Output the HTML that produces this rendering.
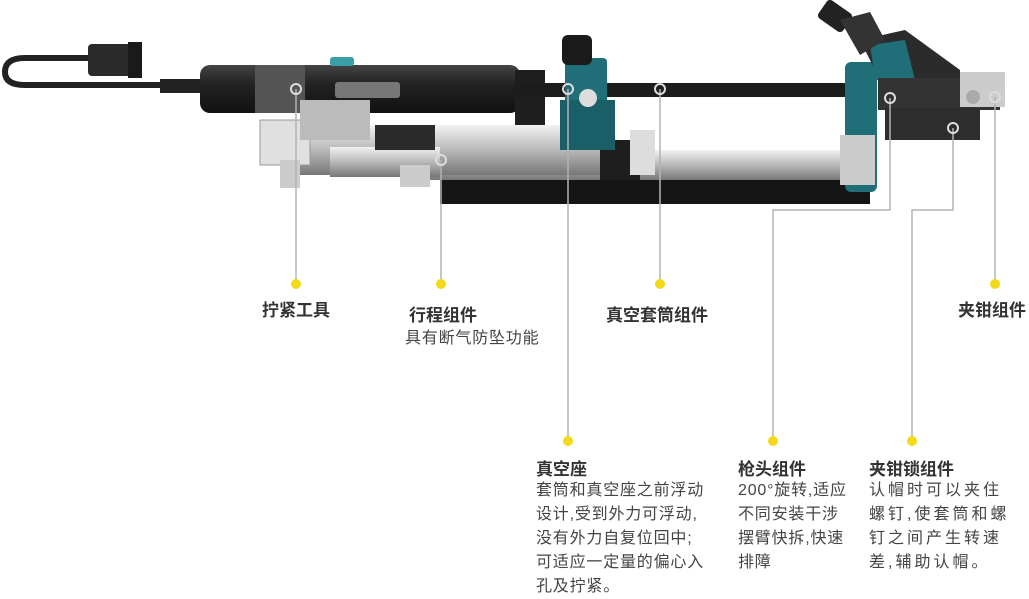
<!DOCTYPE html>
<html><head><meta charset="utf-8"><style>
body{margin:0;width:1029px;height:594px;background:#fff;position:relative;overflow:hidden;font-family:"Liberation Sans","Noto Sans CJK SC",sans-serif;color:#333}
.t{position:absolute;font-weight:bold;font-size:17px;color:#333;white-space:nowrap}
.d{position:absolute;font-size:16px;line-height:24px;color:#444;white-space:nowrap;letter-spacing:0.8px}
</style></head><body>
<svg width="1029" height="594" style="position:absolute;left:0;top:0">
<defs>
<linearGradient id="sil" x1="0" y1="0" x2="0" y2="1"><stop offset="0" stop-color="#f2f2f2"/><stop offset=".5" stop-color="#b8b8b8"/><stop offset="1" stop-color="#777"/></linearGradient>
<linearGradient id="blk" x1="0" y1="0" x2="0" y2="1"><stop offset="0" stop-color="#444"/><stop offset=".4" stop-color="#222"/><stop offset="1" stop-color="#111"/></linearGradient>
</defs>
<path d="M200,85 L25,85 Q5,85 5,72 Q5,58 25,58 L90,58" fill="none" stroke="#222" stroke-width="6"/>
<rect x="88" y="44" width="50" height="32" rx="4" fill="#2a2a2a"/>
<rect x="128" y="42" width="14" height="36" fill="#1a1a1a"/>
<rect x="160" y="79" width="45" height="14" fill="#222"/>
<rect x="200" y="65" width="320" height="48" rx="10" fill="url(#blk)"/>
<rect x="255" y="65" width="50" height="48" fill="#555"/>
<rect x="330" y="57" width="24" height="9" rx="3" fill="#3aa0a8"/>
<rect x="335" y="82" width="65" height="16" rx="3" fill="#777"/>
<rect x="515" y="70" width="30" height="72" fill="#1e1e1e"/>
<rect x="515" y="83" width="335" height="14" fill="#1c1c1c"/>
<rect x="440" y="168" width="430" height="36" fill="#151515"/>
<rect x="430" y="150" width="420" height="30" fill="url(#sil)"/>
<rect x="300" y="125" width="300" height="50" fill="url(#sil)"/>
<rect x="330" y="147" width="110" height="30" fill="url(#sil)"/>
<rect x="260" y="120" width="50" height="45" fill="#e0e0e0" stroke="#999"/>
<rect x="280" y="160" width="20" height="28" fill="#ccc"/>
<rect x="300" y="100" width="70" height="40" fill="#bbb"/>
<rect x="375" y="125" width="60" height="25" fill="#2a2a2a"/>
<rect x="400" y="165" width="30" height="22" fill="#ccc"/>
<rect x="600" y="140" width="40" height="40" fill="#1e1e1e"/>
<rect x="630" y="130" width="25" height="45" fill="#ddd"/>
<rect x="565" y="58" width="42" height="80" rx="4" fill="#1f6e78"/>
<rect x="560" y="100" width="55" height="50" fill="#1a5f68"/>
<rect x="562" y="35" width="30" height="30" rx="6" fill="#1a1a1a"/>
<circle cx="588" cy="98" r="9" fill="#ddd"/>
<rect x="845" y="62" width="32" height="130" rx="6" fill="#1f6e78"/>
<rect x="840" y="135" width="35" height="50" fill="#ccc"/>
<polygon points="860,40 905,30 960,70 960,80 880,80" fill="#2b2b2b"/>
<polygon points="870,45 905,40 915,80 875,80" fill="#1f6e78"/>
<rect x="820" y="5" width="30" height="22" rx="4" fill="#222" transform="rotate(35 835 16)"/>
<polygon points="840,20 870,12 885,40 860,55" fill="#333"/>
<rect x="878" y="78" width="122" height="32" fill="#333"/>
<rect x="885" y="108" width="95" height="32" fill="#2d2d2d"/>
<rect x="960" y="72" width="45" height="35" fill="#ccc"/>
<circle cx="973" cy="97" r="7" fill="#aaa"/>
<g fill="none" stroke="#b3b3b3" stroke-width="1.5">
<path d="M296,89 V282"/><path d="M441,160 V282"/><path d="M660,89 V282"/><path d="M995,97 V282"/>
<path d="M568,89 V440"/>
<path d="M890,98 V210 H773 V440"/>
<path d="M953,128 V210 H912 V440"/>
</g>
<g fill="none" stroke="#ddd" stroke-width="2">
<circle cx="296" cy="89" r="5"/><circle cx="441" cy="160" r="5"/><circle cx="660" cy="89" r="5"/><circle cx="995" cy="97" r="5"/><circle cx="568" cy="89" r="5"/><circle cx="890" cy="98" r="5"/><circle cx="953" cy="128" r="5"/>
</g>
<g fill="#f2d91a">
<circle cx="296" cy="284" r="5"/><circle cx="441" cy="284" r="5"/><circle cx="660" cy="284" r="5"/><circle cx="995" cy="284" r="5"/>
<circle cx="568" cy="441" r="5"/><circle cx="773" cy="441" r="5"/><circle cx="912" cy="441" r="5"/>
</g>
</svg>
<div class="t" style="left:262px;top:296px">拧紧工具</div>
<div class="t" style="left:409px;top:301px">行程组件</div>
<div class="d" style="left:405px;top:327px">具有断气防坠功能</div>
<div class="t" style="left:606px;top:301px">真空套筒组件</div>
<div class="t" style="left:958px;top:296px">夹钳组件</div>
<div class="t" style="left:536px;top:455px">真空座</div>
<div class="d" style="left:536px;top:479px">套筒和真空座之前浮动<br>设计,受到外力可浮动,<br>没有外力自复位回中;<br>可适应一定量的偏心入<br>孔及拧紧。</div>
<div class="t" style="left:738px;top:455px">枪头组件</div>
<div class="d" style="left:738px;top:479px">200°旋转,适应<br>不同安装干涉<br>摆臂快拆,快速<br>排障</div>
<div class="t" style="left:869px;top:455px">夹钳锁组件</div>
<div class="d" style="left:869px;top:479px;letter-spacing:3px">认帽时可以夹住<br>螺钉,使套筒和螺<br>钉之间产生转速<br>差,辅助认帽。</div>
</body></html>
